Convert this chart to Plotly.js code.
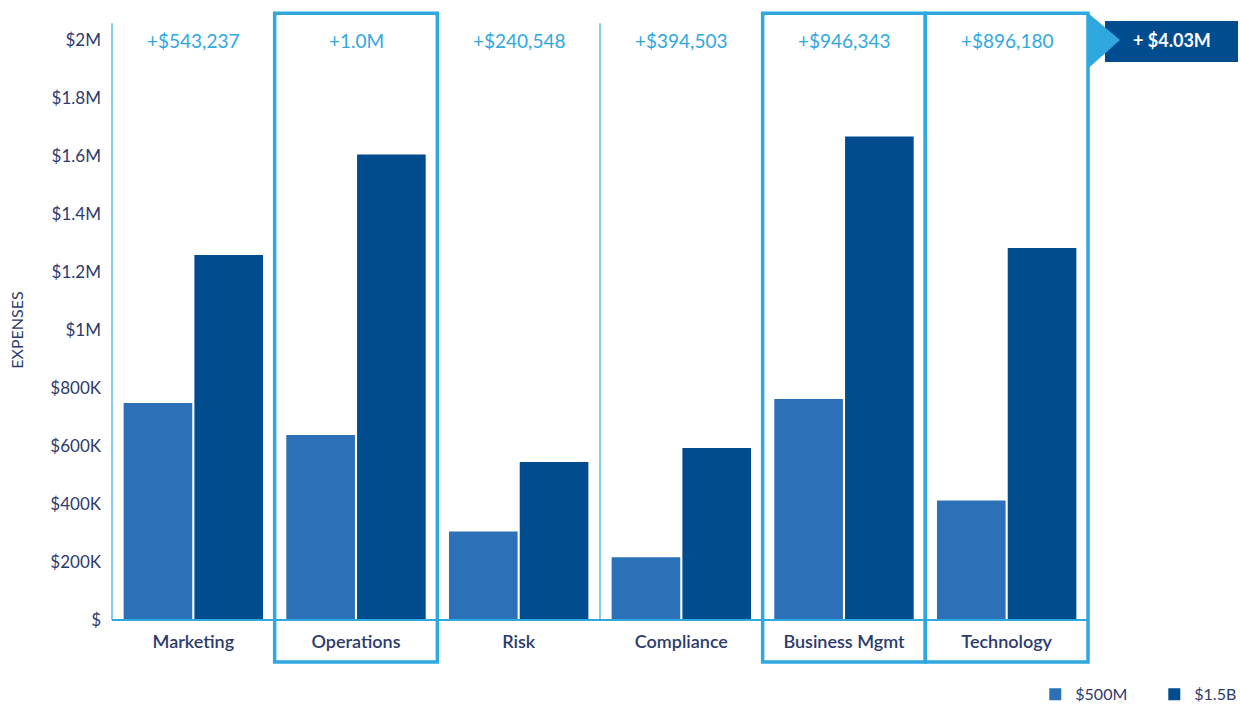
<!DOCTYPE html>
<html>
<head>
<meta charset="utf-8">
<script src="https://cdn.plot.ly/plotly-3.0.1.min.js"></script>
<style>html,body{margin:0;padding:0;background:#fff;}#chart{width:1240px;height:704px;}</style>
</head>
<body>
<div id="chart"></div>
<script>
// ---- data ----
const categories = ["Marketing", "Operations", "Risk", "Compliance", "Business Mgmt", "Technology"];
const series500M = [748000, 638000, 305000, 216000, 762000, 412000];
const series1_5B = [1259000, 1605000, 545000, 593000, 1667000, 1283000];
const seriesNames = ["$500M", "$1.5B"];
const diffLabels = ["+$543,237", "+1.0M", "+$240,548", "+$394,503", "+$946,343", "+$896,180"];
const highlighted = ["Operations", "Business Mgmt", "Technology"];
const totalLabel = "+ $4.03M";
const tickVals = [0, 200000, 400000, 600000, 800000, 1000000, 1200000, 1400000, 1600000, 1800000, 2000000];
const tickText = ["$", "$200K", "$400K", "$600K", "$800K", "$1M", "$1.2M", "$1.4M", "$1.6M", "$1.8M", "$2M"];

// ---- style ----
const FONT = "Lato, 'Open Sans', sans-serif";
const NAVY_TXT = "#2d3a6e";
const ACCENT = "#2fa8e0";
const LIGHT = "#2c70b7";
const DARK = "#004c8e";

const traces = [
  {type: "bar", name: seriesNames[0], x: categories, y: series500M, marker: {color: LIGHT}, hoverinfo: "y"},
  {type: "bar", name: seriesNames[1], x: categories, y: series1_5B, marker: {color: DARK}, hoverinfo: "y"}
];

const n = categories.length;
const shapes = [];
// baseline
shapes.push({type: "line", xref: "paper", yref: "paper", x0: 0, x1: 1, y0: 0, y1: 0, line: {color: ACCENT, width: 2}, layer: "above"});
// left axis line and separators
for (let i = 0; i <= n; i++) {
  shapes.push({type: "line", xref: "paper", yref: "paper", x0: i / n, x1: i / n, y0: 0, y1: 1.029,
    line: {color: ACCENT, width: 1.2}, layer: "above"});
}
// highlight boxes
highlighted.forEach(c => {
  const i = categories.indexOf(c);
  shapes.push({type: "rect", xref: "paper", yref: "paper", x0: i / n, x1: (i + 1) / n, y0: -0.0724, y1: 1.046,
    line: {color: ACCENT, width: 3.5}, fillcolor: "rgba(0,0,0,0)", layer: "above"});
});
// callout box + arrow
shapes.push({type: "rect", xref: "paper", yref: "paper", x0: 1.0174, x1: 1.1537, y0: 0.9621, y1: 1.0328,
  line: {width: 0}, fillcolor: DARK, layer: "above"});
shapes.push({type: "path", xref: "paper", yref: "paper", path: "M 1.0,1.0466 L 1.0328,1.0 L 1.0,0.951 Z",
  line: {width: 0}, fillcolor: ACCENT, layer: "above"});

const annotations = categories.map((c, i) => ({
  x: c, xref: "x", y: 1, yref: "paper", text: diffLabels[i], showarrow: false,
  font: {family: FONT, size: 19, color: ACCENT}, xanchor: "center", yanchor: "middle"
}));
annotations.push({x: 1.086, xref: "paper", y: 1.0, yref: "paper", text: "<b>" + totalLabel + "</b>", showarrow: false,
  font: {family: FONT, size: 18, color: "#ffffff"}, xanchor: "center", yanchor: "middle"});

const layout = {
  width: 1240, height: 704,
  margin: {l: 112, r: 152, t: 40, b: 84, autoexpand: false},
  paper_bgcolor: "#ffffff", plot_bgcolor: "#ffffff",
  barmode: "group", bargap: 0.13, bargroupgap: 0.03,
  font: {family: FONT, color: NAVY_TXT},
  xaxis: {
    type: "category", showgrid: false, zeroline: false, showline: false, ticks: "",
    tickfont: {family: FONT, size: 18, color: NAVY_TXT, weight: 600}, ticklabelstandoff: 9,
    fixedrange: true, automargin: false
  },
  yaxis: {
    range: [0, 2000000], tickvals: tickVals, ticktext: tickText, showgrid: false, zeroline: false,
    showline: false, ticks: "", ticklabelstandoff: 10, automargin: false,
    tickfont: {family: FONT, size: 17, color: NAVY_TXT},
    title: {text: "EXPENSES", font: {family: FONT, size: 16, color: NAVY_TXT}, standoff: 22},
    fixedrange: true
  },
  showlegend: true,
  legend: {orientation: "h", x: 0.946, xanchor: "left", y: -0.128, yanchor: "middle",
    font: {family: FONT, size: 16, color: NAVY_TXT}, entrywidth: 74, entrywidthmode: "pixels",
    bgcolor: "rgba(0,0,0,0)"},
  shapes: shapes,
  annotations: annotations
};

Plotly.newPlot("chart", traces, layout, {displayModeBar: false, staticPlot: true});
</script>
</body>
</html>
